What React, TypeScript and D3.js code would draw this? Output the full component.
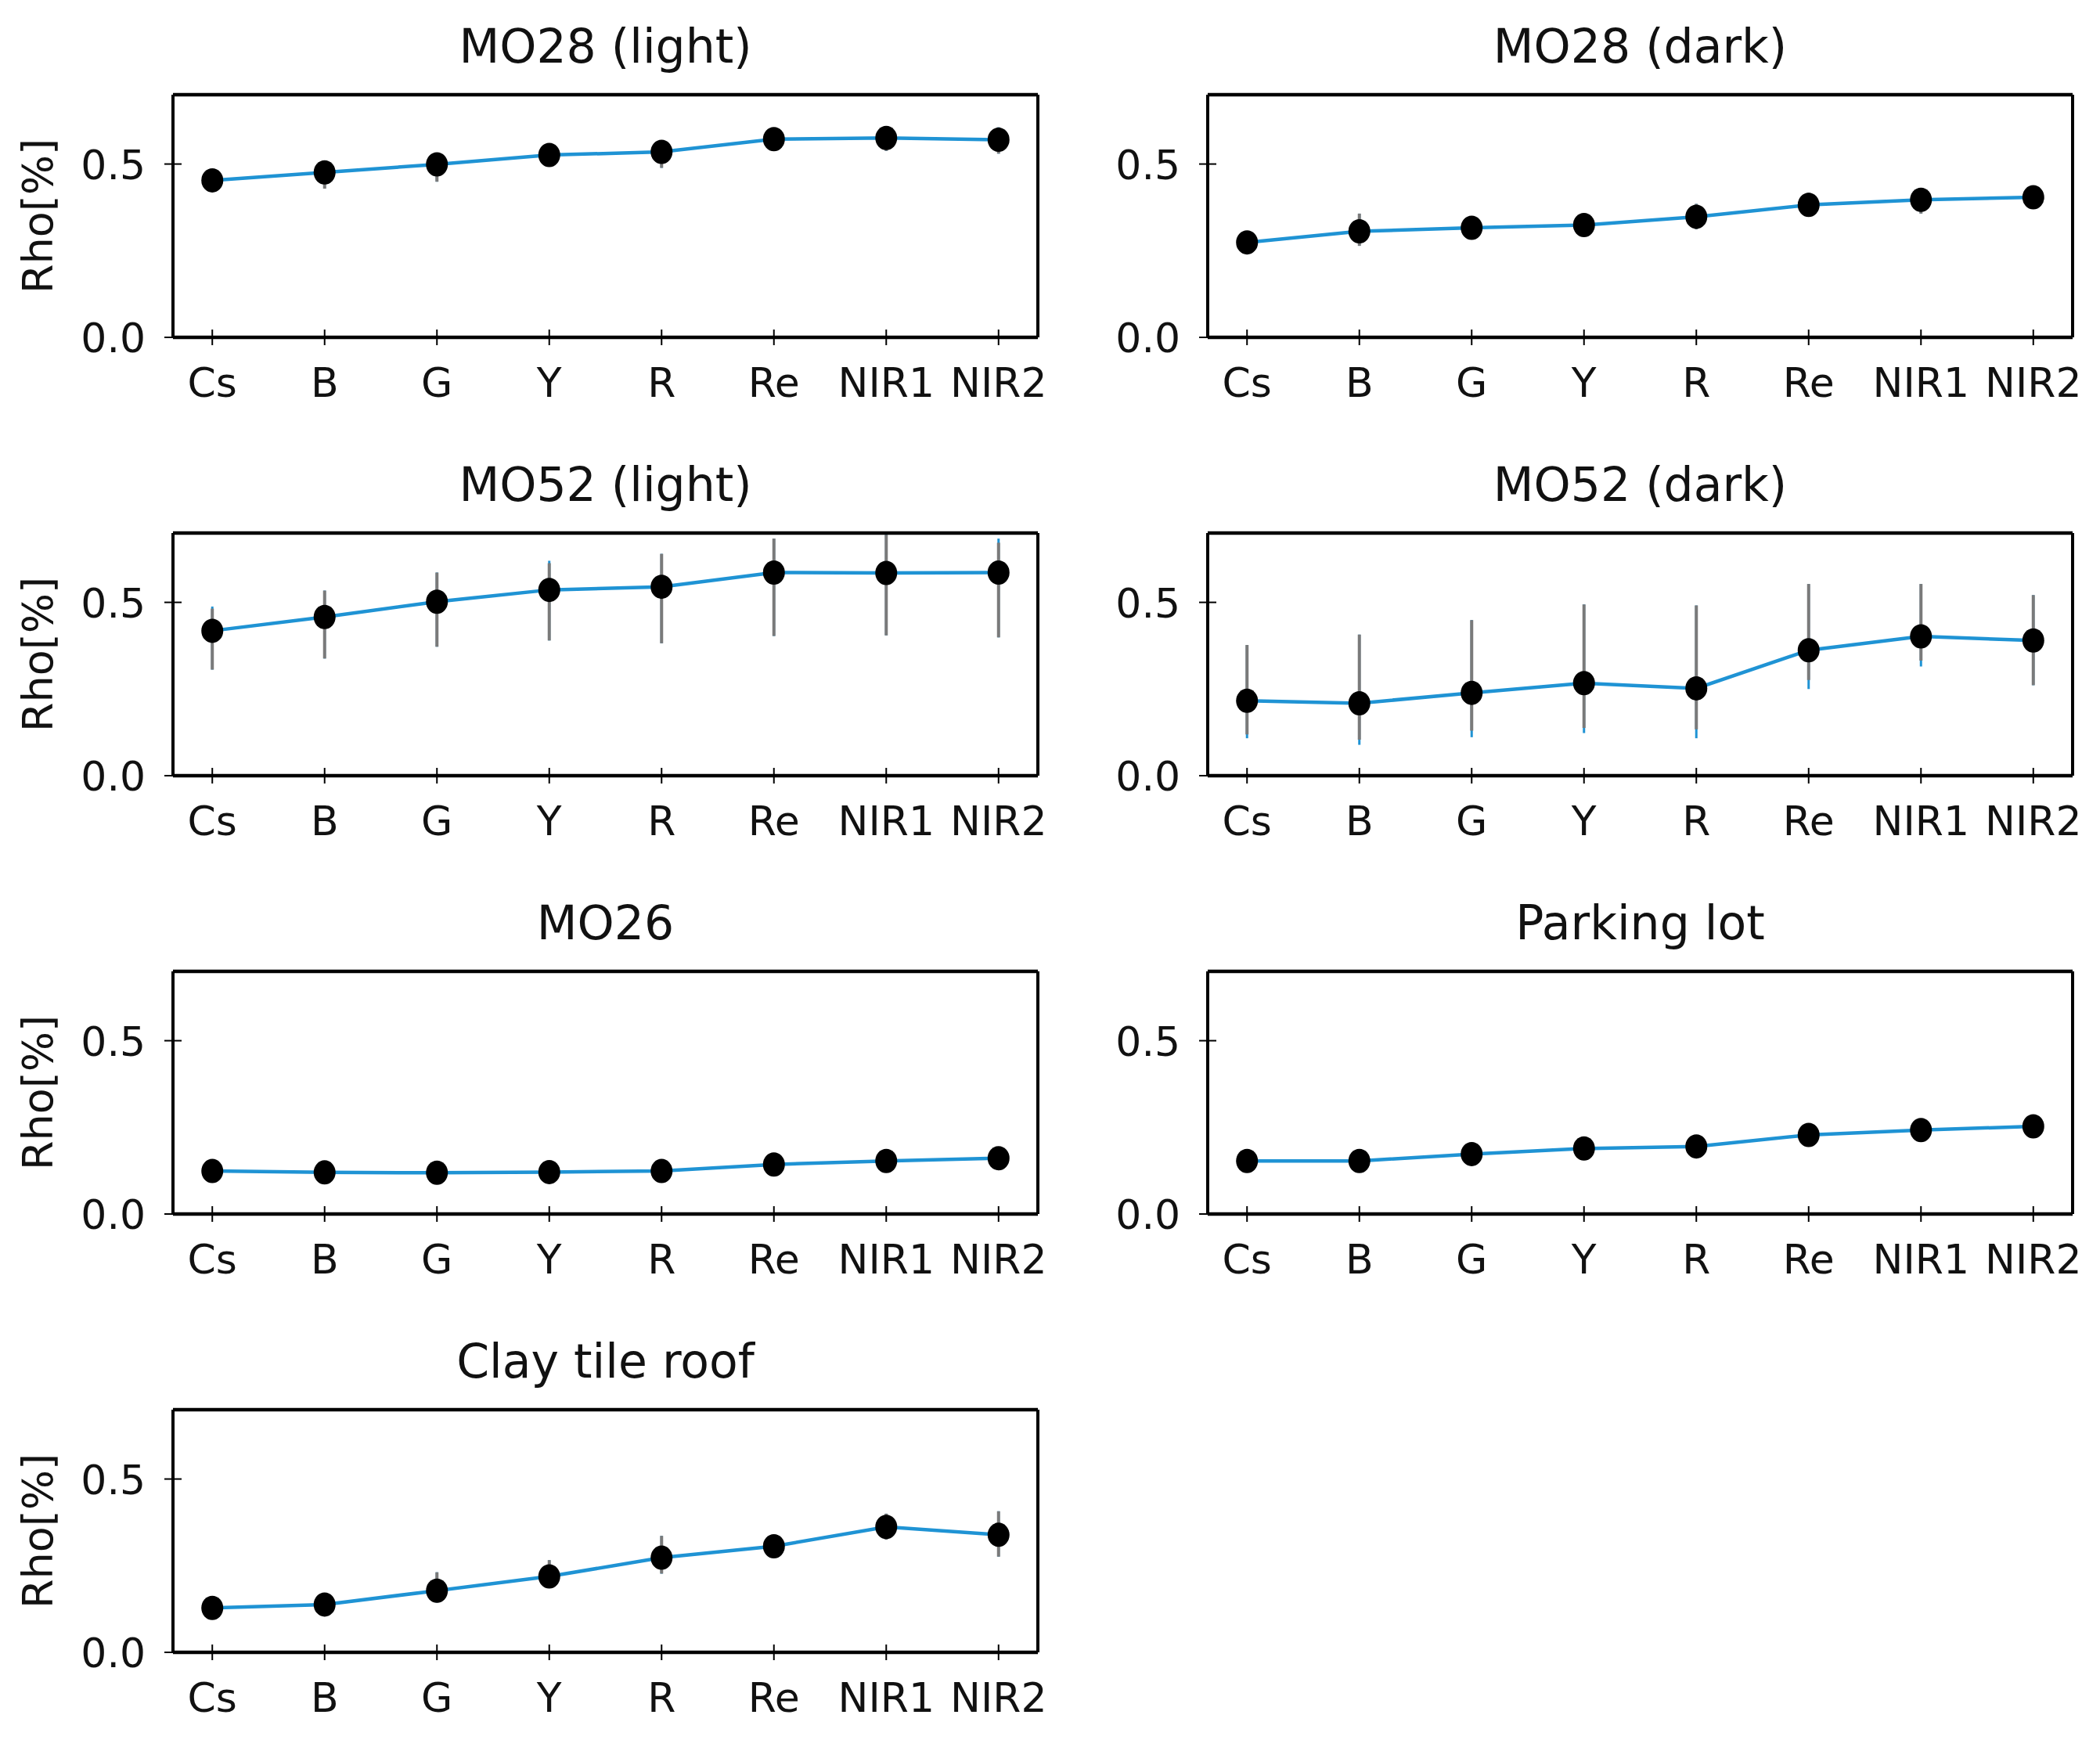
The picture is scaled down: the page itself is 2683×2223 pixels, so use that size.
import React from 'react';
import * as d3 from 'd3';

const bands = ['Cs', 'B', 'G', 'Y', 'R', 'Re', 'NIR1', 'NIR2'];
const yTicks = [0.0, 0.5];

// MO28 (light)
const mo28LightMean = [0.453, 0.476, 0.499, 0.526, 0.535, 0.572, 0.575, 0.570];
const mo28LightLo = [0.421, 0.429, 0.449, 0.497, 0.489, 0.542, 0.538, 0.530];
const mo28LightHi = [0.481, 0.509, 0.530, 0.554, 0.562, 0.602, 0.606, 0.606];

// MO28 (dark)
const mo28DarkMean = [0.274, 0.306, 0.316, 0.324, 0.348, 0.382, 0.397, 0.404];
const mo28DarkLo = [0.240, 0.264, 0.284, 0.292, 0.312, 0.348, 0.357, 0.373];
const mo28DarkHi = [0.304, 0.357, 0.344, 0.352, 0.385, 0.417, 0.429, 0.437];

// MO52 (light)
const mo52LightMean = [0.418, 0.458, 0.502, 0.536, 0.545, 0.586, 0.585, 0.586];
const mo52LightLo = [0.306, 0.338, 0.372, 0.390, 0.382, 0.403, 0.405, 0.399];
const mo52LightHi = [0.482, 0.534, 0.586, 0.613, 0.640, 0.684, 0.695, 0.672];
const mo52LightBlueHi = [0.488, 0.534, 0.586, 0.620, 0.640, 0.684, 0.695, 0.684];

// MO52 (dark)
const mo52DarkMean = [0.216, 0.209, 0.239, 0.267, 0.252, 0.362, 0.402, 0.390];
const mo52DarkLo = [0.119, 0.104, 0.130, 0.138, 0.134, 0.276, 0.332, 0.261];
const mo52DarkHi = [0.377, 0.407, 0.449, 0.494, 0.491, 0.553, 0.553, 0.521];
const mo52DarkBlueLo = [0.108, 0.089, 0.111, 0.123, 0.108, 0.250, 0.315, 0.261];

// MO26
const mo26Mean = [0.124, 0.120, 0.119, 0.121, 0.124, 0.143, 0.153, 0.161];
const mo26Lo = [0.110, 0.106, 0.105, 0.107, 0.110, 0.128, 0.138, 0.146];
const mo26Hi = [0.138, 0.134, 0.133, 0.135, 0.138, 0.158, 0.168, 0.176];

// Parking lot
const parkingMean = [0.153, 0.153, 0.173, 0.189, 0.195, 0.228, 0.242, 0.253];
const parkingLo = [0.139, 0.139, 0.158, 0.174, 0.180, 0.212, 0.226, 0.237];
const parkingHi = [0.167, 0.167, 0.188, 0.204, 0.210, 0.244, 0.258, 0.269];

// Clay tile roof
const clayMean = [0.128, 0.138, 0.178, 0.219, 0.273, 0.306, 0.362, 0.339];
const clayLo = [0.110, 0.115, 0.144, 0.186, 0.227, 0.280, 0.325, 0.276];
const clayHi = [0.145, 0.160, 0.231, 0.266, 0.336, 0.330, 0.400, 0.407];

const panels = [
  { title: 'MO28 (light)', mean: mo28LightMean, lo: mo28LightLo, hi: mo28LightHi },
  { title: 'MO28 (dark)', mean: mo28DarkMean, lo: mo28DarkLo, hi: mo28DarkHi },
  { title: 'MO52 (light)', mean: mo52LightMean, lo: mo52LightLo, hi: mo52LightHi, blueHi: mo52LightBlueHi },
  { title: 'MO52 (dark)', mean: mo52DarkMean, lo: mo52DarkLo, hi: mo52DarkHi, blueLo: mo52DarkBlueLo },
  { title: 'MO26', mean: mo26Mean, lo: mo26Lo, hi: mo26Hi },
  { title: 'Parking lot', mean: parkingMean, lo: parkingLo, hi: parkingHi },
  { title: 'Clay tile roof', mean: clayMean, lo: clayLo, hi: clayHi },
];

const W = 2683;
const H = 2223;
const colX = [221, 1543];
const rowY = [121, 681, 1241, 1801];
const pw = 1105;
const ph = 310;
const font = 'DejaVu Sans, sans-serif';
const blue = '#1f93d4';
const gray = '#7a7a7a';

function Panel({ p, left, top, showYLabel }) {
  const x = d3.scaleLinear().domain([-0.35, bands.length - 1 + 0.35]).range([0, pw]);
  const y = d3.scaleLinear().domain([0, 0.7]).range([ph, 0]);
  const line = d3.line<number>().x((d, i) => x(i)).y((d) => y(d));
  const blueLo = p.blueLo || p.lo;
  const blueHi = p.blueHi || p.hi;

  return (
    <g transform={`translate(${left},${top})`}>
      <text x={pw / 2} y={-41} textAnchor="middle" fontSize={60} fontFamily={font} fill="#111">
        {p.title}
      </text>
      {showYLabel && (
        <text
          transform={`translate(${67 - left},${ph / 2}) rotate(-90)`}
          textAnchor="middle"
          fontSize={54}
          fontFamily={font}
          fill="#111"
        >
          Rho[%]
        </text>
      )}
      {/* blue error bars, mostly hidden under grey */}
      {p.mean.map((m, i) => (
        <line key={'b' + i} x1={x(i)} x2={x(i)} y1={y(blueLo[i])} y2={y(blueHi[i])} stroke={blue} strokeWidth={3} />
      ))}
      {p.mean.map((m, i) => (
        <line key={'g' + i} x1={x(i)} x2={x(i)} y1={y(p.lo[i])} y2={y(p.hi[i])} stroke={gray} strokeWidth={4} />
      ))}
      <path d={line(p.mean) || ''} fill="none" stroke={blue} strokeWidth={4.5} />
      {p.mean.map((m, i) => (
        <ellipse key={'c' + i} cx={x(i)} cy={y(m)} rx={14} ry={15.5} fill="#000" />
      ))}
      {/* spines */}
      <line x1={0} x2={pw} y1={0} y2={0} stroke="#000" strokeWidth={4.5} />
      <line x1={0} x2={pw} y1={ph} y2={ph} stroke="#000" strokeWidth={4.5} />
      <line x1={0} x2={0} y1={0} y2={ph} stroke="#000" strokeWidth={4} />
      <line x1={pw} x2={pw} y1={0} y2={ph} stroke="#000" strokeWidth={4} />
      {bands.map((b, i) => (
        <g key={b}>
          <line x1={x(i)} x2={x(i)} y1={ph - 10} y2={ph + 10} stroke="#000" strokeWidth={2} />
          <text x={x(i)} y={ph + 76} textAnchor="middle" fontSize={52} fontFamily={font} fill="#111">
            {b}
          </text>
        </g>
      ))}
      {yTicks.map((t) => (
        <g key={t}>
          <line x1={-11} x2={11} y1={y(t)} y2={y(t)} stroke="#000" strokeWidth={2} />
          <text x={-35} y={y(t) + 19} textAnchor="end" fontSize={52} fontFamily={font} fill="#111">
            {t.toFixed(1)}
          </text>
        </g>
      ))}
    </g>
  );
}

export default function App() {
  return (
    <svg
      width={W}
      height={H}
      viewBox={`0 0 ${W} ${H}`}
      style={{ position: 'absolute', left: 0, top: 0, background: '#fff' }}
    >
      <rect x={0} y={0} width={W} height={H} fill="#fff" />
      {panels.map((p, k) => (
        <Panel key={p.title} p={p} left={colX[k % 2]} top={rowY[Math.floor(k / 2)]} showYLabel={k % 2 === 0} />
      ))}
    </svg>
  );
}
